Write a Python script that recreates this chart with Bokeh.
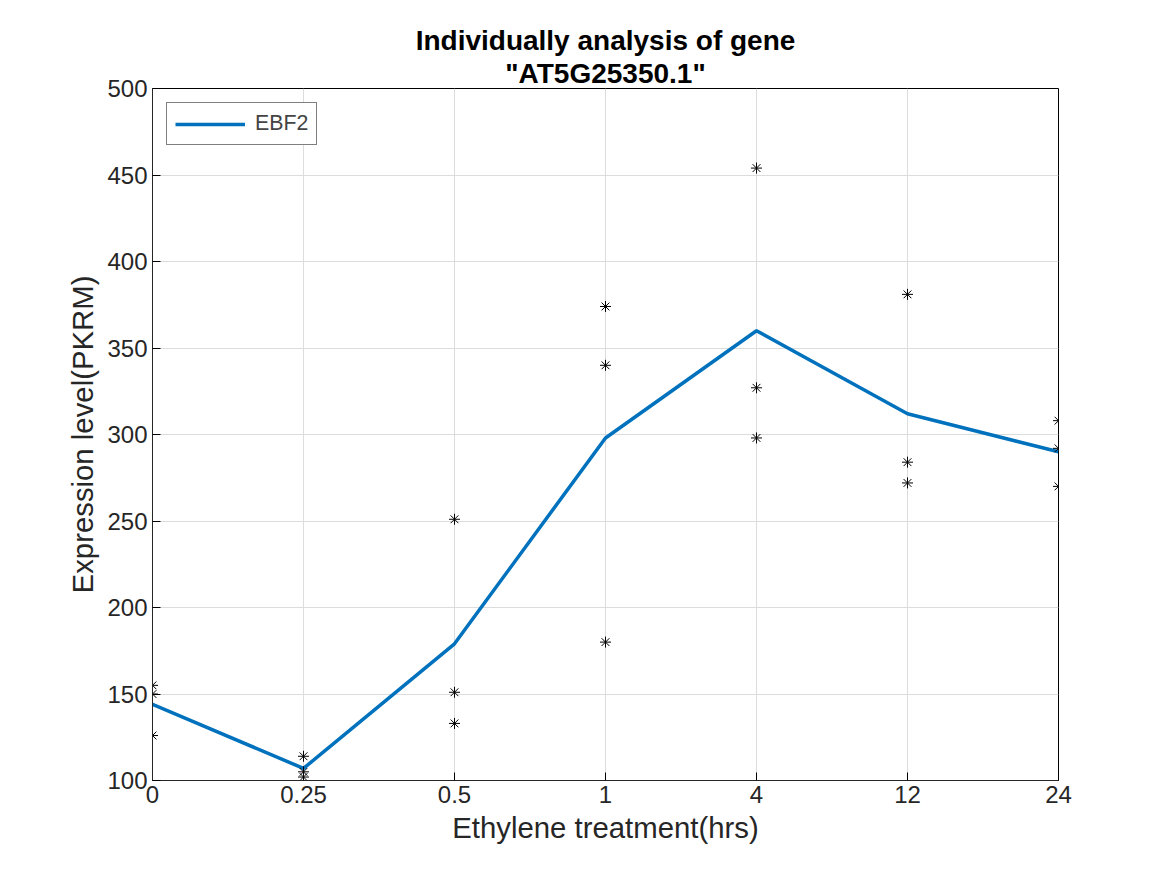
from bokeh.plotting import figure
from bokeh.models import Range1d, FixedTicker, Legend, LegendItem, Title
from bokeh.embed import file_html
from bokeh.resources import INLINE

tick_labels = ["0", "0.25", "0.5", "1", "4", "12", "24"]
# replicate measurements per time point
rep1 = [155, 114, 251, 374, 454, 381, 308]
rep2 = [150, 105, 151, 340, 327, 284, 292]
rep3 = [126, 102, 133, 180, 298, 272, 270]
mean_vals = [144, 107, 179, 298, 360, 312, 290]

xs = list(range(len(tick_labels)))
FONT = "Liberation Sans"

p = figure(width=1150, height=860, output_backend="svg", toolbar_location=None,
           x_range=Range1d(0, 6), y_range=Range1d(100, 500),
           min_border_left=152, min_border_right=92, min_border_top=88, min_border_bottom=80)
# two-line title, each line centered
for txt in ['"AT5G25350.1"', "Individually analysis of gene"]:
    p.add_layout(Title(text=txt, align="center", text_font=FONT, text_font_size="21pt",
                       text_font_style="bold", text_color="black", standoff=0), "above")
p.outline_line_color = "black"
p.outline_line_width = 1

p.xaxis.ticker = FixedTicker(ticks=xs)
p.xaxis.major_label_overrides = {i: t for i, t in enumerate(tick_labels)}
p.yaxis.ticker = FixedTicker(ticks=list(range(100, 501, 50)))
p.xaxis.axis_label = "Ethylene treatment(hrs)"
p.yaxis.axis_label = "Expression level(PKRM)"
for ax in (p.xaxis, p.yaxis):
    ax.axis_label_text_font = FONT
    ax.axis_label_text_font_style = "normal"
    ax.axis_label_text_font_size = "22pt"
    ax.major_label_text_font = FONT
    ax.major_label_text_font_size = "18pt"
    ax.major_label_text_color = "#262626"
    ax.axis_label_text_color = "#262626"
    ax.major_tick_in = 8
    ax.major_tick_out = 0
    ax.minor_tick_line_color = None
    ax.axis_line_color = "#262626"
p.grid.grid_line_color = "#dcdcdc"

line = p.line(xs, mean_vals, line_width=3.5, color="#0072BD")
for r in (rep1, rep2, rep3):
    p.scatter(xs, r, marker="asterisk", size=11, line_color="black", line_width=1)

legend = Legend(items=[LegendItem(label="EBF2", renderers=[line])], location="top_left",
                label_text_font=FONT, label_text_font_size="16pt",
                border_line_color="black", glyph_width=70, margin=14, padding=8,
                label_standoff=10)
p.add_layout(legend)

open("out.html", "w").write(file_html(p, INLINE))
